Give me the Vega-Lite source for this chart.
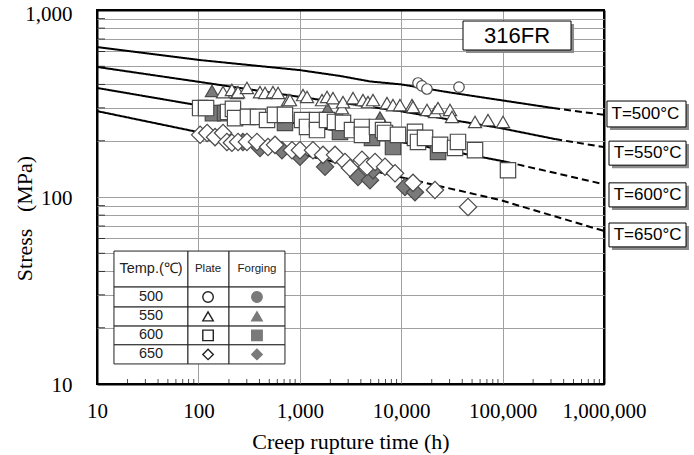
{
  "$schema": "https://vega.github.io/schema/vega-lite/v6.json",
  "width": 507,
  "height": 374,
  "autosize": "none",
  "padding": {"left": 97, "top": 10, "right": 90, "bottom": 71},
  "background": "white",
  "config": {
    "view": {"stroke": "black", "strokeWidth": 2},
    "axis": {
      "labelFont": "Liberation Serif",
      "labelFontSize": 21,
      "labelColor": "black",
      "titleFont": "Liberation Serif",
      "titleFontSize": 22,
      "titleFontWeight": "normal",
      "titleColor": "black",
      "ticks": false,
      "domain": false
    }
  },
  "datasets": {
    "curves": [
      {"temp": "500", "seg": "solid", "t": 10, "s": 634},
      {"temp": "500", "seg": "solid", "t": 100, "s": 541},
      {"temp": "500", "seg": "solid", "t": 1000, "s": 477},
      {"temp": "500", "seg": "solid", "t": 2490, "s": 444},
      {"temp": "500", "seg": "solid", "t": 4920, "s": 415},
      {"temp": "500", "seg": "solid", "t": 10000, "s": 400},
      {"temp": "500", "seg": "solid", "t": 28500, "s": 364},
      {"temp": "500", "seg": "solid", "t": 94000, "s": 330},
      {"temp": "500", "seg": "solid", "t": 315000, "s": 299},
      {"temp": "500", "seg": "dash", "t": 315000, "s": 299},
      {"temp": "500", "seg": "dash", "t": 1000000, "s": 275},
      {"temp": "550", "seg": "solid", "t": 10, "s": 496},
      {"temp": "550", "seg": "solid", "t": 104, "s": 412},
      {"temp": "550", "seg": "solid", "t": 1000, "s": 343},
      {"temp": "550", "seg": "solid", "t": 9730, "s": 288},
      {"temp": "550", "seg": "solid", "t": 32000, "s": 258},
      {"temp": "550", "seg": "solid", "t": 94000, "s": 234},
      {"temp": "550", "seg": "solid", "t": 330000, "s": 204},
      {"temp": "550", "seg": "dash", "t": 330000, "s": 204},
      {"temp": "550", "seg": "dash", "t": 1000000, "s": 185},
      {"temp": "600", "seg": "solid", "t": 10, "s": 383},
      {"temp": "600", "seg": "solid", "t": 97, "s": 310},
      {"temp": "600", "seg": "solid", "t": 1000, "s": 245},
      {"temp": "600", "seg": "solid", "t": 9730, "s": 197},
      {"temp": "600", "seg": "solid", "t": 47700, "s": 168},
      {"temp": "600", "seg": "solid", "t": 110000, "s": 154},
      {"temp": "600", "seg": "dash", "t": 110000, "s": 154},
      {"temp": "600", "seg": "dash", "t": 1000000, "s": 117},
      {"temp": "650", "seg": "solid", "t": 10, "s": 288},
      {"temp": "650", "seg": "solid", "t": 97, "s": 223},
      {"temp": "650", "seg": "solid", "t": 1000, "s": 170},
      {"temp": "650", "seg": "solid", "t": 11000, "s": 126},
      {"temp": "650", "seg": "dash", "t": 11000, "s": 126},
      {"temp": "650", "seg": "dash", "t": 94000, "s": 96.4},
      {"temp": "650", "seg": "dash", "t": 1000000, "s": 65.8}
    ],
    "points": [
      {"temp": "550", "form": "Forging", "t": 136, "s": 369},
      {"temp": "550", "form": "Forging", "t": 1880, "s": 296},
      {"temp": "550", "form": "Forging", "t": 6180, "s": 266},
      {"temp": "600", "form": "Forging", "t": 139, "s": 281},
      {"temp": "600", "form": "Forging", "t": 183, "s": 281},
      {"temp": "600", "form": "Forging", "t": 714, "s": 249},
      {"temp": "600", "form": "Forging", "t": 2490, "s": 223},
      {"temp": "600", "form": "Forging", "t": 5152, "s": 207},
      {"temp": "600", "form": "Forging", "t": 8298, "s": 185},
      {"temp": "600", "form": "Forging", "t": 23070, "s": 174},
      {"temp": "650", "form": "Forging", "t": 275, "s": 197},
      {"temp": "650", "form": "Forging", "t": 405, "s": 183},
      {"temp": "650", "form": "Forging", "t": 667, "s": 178},
      {"temp": "650", "form": "Forging", "t": 1004, "s": 164},
      {"temp": "650", "form": "Forging", "t": 1774, "s": 145},
      {"temp": "650", "form": "Forging", "t": 3750, "s": 128},
      {"temp": "650", "form": "Forging", "t": 4920, "s": 123},
      {"temp": "650", "form": "Forging", "t": 5272, "s": 139},
      {"temp": "650", "form": "Forging", "t": 10900, "s": 113},
      {"temp": "650", "form": "Forging", "t": 13680, "s": 106},
      {"temp": "500", "form": "Plate", "t": 14650, "s": 407},
      {"temp": "500", "form": "Plate", "t": 16000, "s": 393},
      {"temp": "500", "form": "Plate", "t": 17950, "s": 378},
      {"temp": "500", "form": "Plate", "t": 37150, "s": 387},
      {"temp": "600", "form": "Plate", "t": 104, "s": 299},
      {"temp": "600", "form": "Plate", "t": 119, "s": 299},
      {"temp": "600", "form": "Plate", "t": 196, "s": 285},
      {"temp": "600", "form": "Plate", "t": 219, "s": 296},
      {"temp": "600", "form": "Plate", "t": 230, "s": 264},
      {"temp": "600", "form": "Plate", "t": 308, "s": 268},
      {"temp": "600", "form": "Plate", "t": 387, "s": 268},
      {"temp": "600", "form": "Plate", "t": 475, "s": 258},
      {"temp": "600", "form": "Plate", "t": 569, "s": 275},
      {"temp": "600", "form": "Plate", "t": 714, "s": 275},
      {"temp": "600", "form": "Plate", "t": 1051, "s": 258},
      {"temp": "600", "form": "Plate", "t": 1178, "s": 237},
      {"temp": "600", "form": "Plate", "t": 1479, "s": 258},
      {"temp": "600", "form": "Plate", "t": 1479, "s": 228},
      {"temp": "600", "form": "Plate", "t": 1855, "s": 258},
      {"temp": "600", "form": "Plate", "t": 2224, "s": 252},
      {"temp": "600", "form": "Plate", "t": 2667, "s": 249},
      {"temp": "600", "form": "Plate", "t": 3273, "s": 228},
      {"temp": "600", "form": "Plate", "t": 4102, "s": 237},
      {"temp": "600", "form": "Plate", "t": 4102, "s": 215},
      {"temp": "600", "form": "Plate", "t": 5768, "s": 237},
      {"temp": "600", "form": "Plate", "t": 6622, "s": 228},
      {"temp": "600", "form": "Plate", "t": 6918, "s": 220},
      {"temp": "600", "form": "Plate", "t": 9290, "s": 215},
      {"temp": "600", "form": "Plate", "t": 13680, "s": 223},
      {"temp": "600", "form": "Plate", "t": 13680, "s": 207},
      {"temp": "600", "form": "Plate", "t": 14650, "s": 197},
      {"temp": "600", "form": "Plate", "t": 17180, "s": 207},
      {"temp": "600", "form": "Plate", "t": 24150, "s": 190},
      {"temp": "600", "form": "Plate", "t": 33960, "s": 183},
      {"temp": "600", "form": "Plate", "t": 36310, "s": 197},
      {"temp": "600", "form": "Plate", "t": 53450, "s": 178},
      {"temp": "600", "form": "Plate", "t": 113000, "s": 139},
      {"temp": "550", "form": "Plate", "t": 175, "s": 364},
      {"temp": "550", "form": "Plate", "t": 214, "s": 374},
      {"temp": "550", "form": "Plate", "t": 240, "s": 360},
      {"temp": "550", "form": "Plate", "t": 246, "s": 364},
      {"temp": "550", "form": "Plate", "t": 301, "s": 383},
      {"temp": "550", "form": "Plate", "t": 405, "s": 364},
      {"temp": "550", "form": "Plate", "t": 454, "s": 360},
      {"temp": "550", "form": "Plate", "t": 544, "s": 364},
      {"temp": "550", "form": "Plate", "t": 610, "s": 360},
      {"temp": "550", "form": "Plate", "t": 766, "s": 330},
      {"temp": "550", "form": "Plate", "t": 800, "s": 330},
      {"temp": "550", "form": "Plate", "t": 1076, "s": 351},
      {"temp": "550", "form": "Plate", "t": 1178, "s": 343},
      {"temp": "550", "form": "Plate", "t": 1656, "s": 330},
      {"temp": "550", "form": "Plate", "t": 1855, "s": 343},
      {"temp": "550", "form": "Plate", "t": 2125, "s": 338},
      {"temp": "550", "form": "Plate", "t": 2606, "s": 299},
      {"temp": "550", "form": "Plate", "t": 2667, "s": 322},
      {"temp": "550", "form": "Plate", "t": 3349, "s": 338},
      {"temp": "550", "form": "Plate", "t": 4198, "s": 330},
      {"temp": "550", "form": "Plate", "t": 4707, "s": 322},
      {"temp": "550", "form": "Plate", "t": 5272, "s": 330},
      {"temp": "550", "form": "Plate", "t": 7244, "s": 318},
      {"temp": "550", "form": "Plate", "t": 8298, "s": 310},
      {"temp": "550", "form": "Plate", "t": 9730, "s": 310},
      {"temp": "550", "form": "Plate", "t": 12790, "s": 310},
      {"temp": "550", "form": "Plate", "t": 13070, "s": 303},
      {"temp": "550", "form": "Plate", "t": 17950, "s": 292},
      {"temp": "550", "form": "Plate", "t": 21530, "s": 285},
      {"temp": "550", "form": "Plate", "t": 23070, "s": 299},
      {"temp": "550", "form": "Plate", "t": 30280, "s": 292},
      {"temp": "550", "form": "Plate", "t": 31700, "s": 268},
      {"temp": "550", "form": "Plate", "t": 53450, "s": 252},
      {"temp": "550", "form": "Plate", "t": 71800, "s": 258},
      {"temp": "550", "form": "Plate", "t": 100900, "s": 252},
      {"temp": "650", "form": "Plate", "t": 104, "s": 215},
      {"temp": "650", "form": "Plate", "t": 122, "s": 220},
      {"temp": "650", "form": "Plate", "t": 146, "s": 209},
      {"temp": "650", "form": "Plate", "t": 175, "s": 220},
      {"temp": "650", "form": "Plate", "t": 191, "s": 197},
      {"temp": "650", "form": "Plate", "t": 214, "s": 195},
      {"temp": "650", "form": "Plate", "t": 246, "s": 197},
      {"temp": "650", "form": "Plate", "t": 301, "s": 197},
      {"temp": "650", "form": "Plate", "t": 378, "s": 197},
      {"temp": "650", "form": "Plate", "t": 486, "s": 185},
      {"temp": "650", "form": "Plate", "t": 569, "s": 190},
      {"temp": "650", "form": "Plate", "t": 838, "s": 178},
      {"temp": "650", "form": "Plate", "t": 1004, "s": 178},
      {"temp": "650", "form": "Plate", "t": 1349, "s": 178},
      {"temp": "650", "form": "Plate", "t": 1694, "s": 168},
      {"temp": "650", "form": "Plate", "t": 2224, "s": 168},
      {"temp": "650", "form": "Plate", "t": 2792, "s": 154},
      {"temp": "650", "form": "Plate", "t": 3126, "s": 143},
      {"temp": "650", "form": "Plate", "t": 4102, "s": 158},
      {"temp": "650", "form": "Plate", "t": 4601, "s": 145},
      {"temp": "650", "form": "Plate", "t": 5521, "s": 154},
      {"temp": "650", "form": "Plate", "t": 6918, "s": 145},
      {"temp": "650", "form": "Plate", "t": 8690, "s": 134},
      {"temp": "650", "form": "Plate", "t": 13070, "s": 119},
      {"temp": "650", "form": "Plate", "t": 21530, "s": 109},
      {"temp": "650", "form": "Plate", "t": 45600, "s": 88.5}
    ],
    "legendSymbols": [
      {"temp": "500", "form": "Plate", "t": 124.5, "s": 29.2},
      {"temp": "550", "form": "Plate", "t": 124.5, "s": 23.0},
      {"temp": "600", "form": "Plate", "t": 124.5, "s": 18.2},
      {"temp": "650", "form": "Plate", "t": 124.5, "s": 14.4},
      {"temp": "500", "form": "Forging", "t": 378, "s": 29.2},
      {"temp": "550", "form": "Forging", "t": 378, "s": 23.0},
      {"temp": "600", "form": "Forging", "t": 378, "s": 18.2},
      {"temp": "650", "form": "Forging", "t": 378, "s": 14.4}
    ],
    "legendCells": [
      {"t1": 14.7, "t2": 78.9, "s1": 51.4, "s2": 33.0},
      {"t1": 78.9, "t2": 200.4, "s1": 51.4, "s2": 33.0},
      {"t1": 200.4, "t2": 714, "s1": 51.4, "s2": 33.0},
      {"t1": 14.7, "t2": 78.9, "s1": 33.0, "s2": 25.8},
      {"t1": 78.9, "t2": 200.4, "s1": 33.0, "s2": 25.8},
      {"t1": 200.4, "t2": 714, "s1": 33.0, "s2": 25.8},
      {"t1": 14.7, "t2": 78.9, "s1": 25.8, "s2": 20.4},
      {"t1": 78.9, "t2": 200.4, "s1": 25.8, "s2": 20.4},
      {"t1": 200.4, "t2": 714, "s1": 25.8, "s2": 20.4},
      {"t1": 14.7, "t2": 78.9, "s1": 20.4, "s2": 16.2},
      {"t1": 78.9, "t2": 200.4, "s1": 20.4, "s2": 16.2},
      {"t1": 200.4, "t2": 714, "s1": 20.4, "s2": 16.2},
      {"t1": 14.7, "t2": 78.9, "s1": 16.2, "s2": 12.8},
      {"t1": 78.9, "t2": 200.4, "s1": 16.2, "s2": 12.8},
      {"t1": 200.4, "t2": 714, "s1": 16.2, "s2": 12.8}
    ],
    "legendBig": [
      {"label": "Temp.(℃)", "t": 34.1, "s": 41.2},
      {"label": "500", "t": 34.1, "s": 29.2},
      {"label": "550", "t": 34.1, "s": 23.0},
      {"label": "600", "t": 34.1, "s": 18.2},
      {"label": "650", "t": 34.1, "s": 14.4}
    ],
    "legendSmall": [
      {"label": "Plate", "t": 124.5, "s": 41.2},
      {"label": "Forging", "t": 378, "s": 41.2}
    ],
    "tempBoxes": [
      {"label": "T=500°C", "t1": 1070000, "t2": 6440000, "s1": 326, "s2": 237, "t": 2560000, "s": 278},
      {"label": "T=550°C", "t1": 1120000, "t2": 6440000, "s1": 199, "s2": 148, "t": 2690000, "s": 172},
      {"label": "T=600°C", "t1": 1120000, "t2": 6440000, "s1": 119, "s2": 88.5, "t": 2690000, "s": 102.5},
      {"label": "T=650°C", "t1": 1120000, "t2": 6440000, "s1": 72.6, "s2": 54.1, "t": 2690000, "s": 62.7}
    ],
    "titleBox": [
      {"label": "316FR", "t1": 40700, "t2": 473000, "s1": 873, "s2": 611, "t": 138700, "s": 726}
    ],
    "xMinor": [
      {"v": 20}, {"v": 30}, {"v": 40}, {"v": 50}, {"v": 60}, {"v": 70}, {"v": 80}, {"v": 90},
      {"v": 200}, {"v": 300}, {"v": 400}, {"v": 500}, {"v": 600}, {"v": 700}, {"v": 800}, {"v": 900},
      {"v": 2000}, {"v": 3000}, {"v": 4000}, {"v": 5000}, {"v": 6000}, {"v": 7000}, {"v": 8000}, {"v": 9000},
      {"v": 20000}, {"v": 30000}, {"v": 40000}, {"v": 50000}, {"v": 60000}, {"v": 70000}, {"v": 80000}, {"v": 90000},
      {"v": 200000}, {"v": 300000}, {"v": 400000}, {"v": 500000}, {"v": 600000}, {"v": 700000}, {"v": 800000}, {"v": 900000}
    ],
    "yMinor": [
      {"v": 20}, {"v": 30}, {"v": 40}, {"v": 50}, {"v": 60}, {"v": 70}, {"v": 80}, {"v": 90},
      {"v": 200}, {"v": 300}, {"v": 400}, {"v": 500}, {"v": 600}, {"v": 700}, {"v": 800}, {"v": 900}
    ]
  },
  "layer": [
    {
      "data": {"name": "curves"},
      "mark": {"type": "line", "color": "black", "strokeWidth": 2},
      "encoding": {
        "x": {
          "field": "t", "type": "quantitative",
          "scale": {"type": "log", "domain": [10, 1000000], "nice": false},
          "axis": {
            "title": "Creep rupture time (h)",
            "values": [10, 100, 1000, 10000, 100000, 1000000],
            "format": ",",
            "labelPadding": 16,
            "labelFlush": false,
            "labelOverlap": false,
            "grid": true,
            "gridColor": {"condition": {"test": "datum.value == 10 || datum.value == 1000000", "value": "black"}, "value": "#a0a0a0"},
            "gridWidth": {"condition": {"test": "datum.value == 10 || datum.value == 1000000", "value": 2}, "value": 1},
            "titleY": 64,
            "titleBaseline": "alphabetic"
          }
        },
        "y": {
          "field": "s", "type": "quantitative",
          "scale": {"type": "log", "domain": [10, 1000], "nice": false},
          "axis": {
            "title": "Stress\u00a0\u00a0\u00a0(MPa)",
            "values": [10, 20, 30, 40, 50, 60, 70, 80, 90, 100, 200, 300, 400, 500, 600, 700, 800, 900, 1000],
            "labelExpr": "indexof([10, 100, 1000], datum.value) >= 0 ? format(datum.value, ',') : ''",
            "labelPadding": 25,
            "labelOffset": {"condition": {"test": "datum.value == 1000", "value": 4}, "value": 1},
            "labelOverlap": false,
            "labelFlush": false,
            "grid": true,
            "gridColor": {"condition": {"test": "datum.value == 10 || datum.value == 1000", "value": "black"}, "value": "#a0a0a0"},
            "gridWidth": {"condition": {"test": "datum.value == 10 || datum.value == 1000", "value": 2}, "value": 1},
            "titleX": -73,
            "titleY": 208,
            "titleAlign": "center",
            "titleBaseline": "middle"
          }
        },
        "strokeDash": {"field": "seg", "type": "nominal", "scale": {"domain": ["solid", "dash"], "range": [[1, 0], [7, 4]]}, "legend": null},
        "detail": {"field": "temp"}
      }
    },
    {
      "data": {"name": "xMinor"},
      "mark": {"type": "tick", "orient": "vertical", "clip": true, "color": "black", "thickness": 1, "size": 10},
      "encoding": {
        "x": {"field": "v", "type": "quantitative"},
        "y": {"datum": 10, "type": "quantitative"}
      }
    },
    {
      "data": {"name": "yMinor"},
      "mark": {"type": "tick", "orient": "horizontal", "clip": true, "color": "black", "thickness": 1, "size": 16},
      "encoding": {
        "y": {"field": "v", "type": "quantitative"},
        "x": {"datum": 10, "type": "quantitative"}
      }
    },
    {
      "data": {"name": "points"},
      "mark": {"type": "point", "filled": true, "opacity": 1, "strokeWidth": 1.2},
      "encoding": {
        "x": {"field": "t", "type": "quantitative"},
        "y": {"field": "s", "type": "quantitative"},
        "shape": {"field": "temp", "type": "nominal", "scale": {"domain": ["500", "550", "600", "650"], "range": ["circle", "triangle-up", "square", "diamond"]}, "legend": null},
        "size": {"field": "temp", "type": "nominal", "scale": {"domain": ["500", "550", "600", "650"], "range": [110, 300, 160, 230]}, "legend": null},
        "fill": {"field": "form", "type": "nominal", "scale": {"domain": ["Plate", "Forging"], "range": ["white", "#7a7a7a"]}, "legend": null},
        "stroke": {"value": "#4a4a4a"}
      }
    },
    {
      "data": {"name": "legendCells"},
      "mark": {"type": "rect", "fill": "white", "stroke": "#222222", "strokeWidth": 1},
      "encoding": {
        "x": {"field": "t1", "type": "quantitative"},
        "x2": {"field": "t2"},
        "y": {"field": "s1", "type": "quantitative"},
        "y2": {"field": "s2"}
      }
    },
    {
      "data": {"name": "legendSymbols"},
      "mark": {"type": "point", "filled": true, "opacity": 1, "strokeWidth": 1.4},
      "encoding": {
        "x": {"field": "t", "type": "quantitative"},
        "y": {"field": "s", "type": "quantitative"},
        "shape": {"field": "temp", "type": "nominal", "legend": null},
        "size": {"value": 110},
        "fill": {"field": "form", "type": "nominal", "legend": null},
        "stroke": {"condition": {"test": "datum.form == 'Plate'", "value": "#222222"}, "value": "#7a7a7a"}
      }
    },
    {
      "data": {"name": "legendBig"},
      "mark": {"type": "text", "font": "Liberation Sans", "fontSize": 14.5, "color": "#222222", "align": "center", "baseline": "middle"},
      "encoding": {
        "x": {"field": "t", "type": "quantitative"},
        "y": {"field": "s", "type": "quantitative"},
        "text": {"field": "label"}
      }
    },
    {
      "data": {"name": "legendSmall"},
      "mark": {"type": "text", "font": "Liberation Sans", "fontSize": 11.5, "color": "#222222", "align": "center", "baseline": "middle", "letterSpacing": 0.6},
      "encoding": {
        "x": {"field": "t", "type": "quantitative"},
        "y": {"field": "s", "type": "quantitative"},
        "text": {"field": "label"}
      }
    },
    {
      "data": {"name": "tempBoxes"},
      "mark": {"type": "rect", "fill": "#8c8c8c", "xOffset": 3, "x2Offset": 3, "yOffset": 3, "y2Offset": 3},
      "encoding": {
        "x": {"field": "t1", "type": "quantitative"},
        "x2": {"field": "t2"},
        "y": {"field": "s1", "type": "quantitative"},
        "y2": {"field": "s2"}
      }
    },
    {
      "data": {"name": "tempBoxes"},
      "mark": {"type": "rect", "fill": "white", "stroke": "black", "strokeWidth": 1},
      "encoding": {
        "x": {"field": "t1", "type": "quantitative"},
        "x2": {"field": "t2"},
        "y": {"field": "s1", "type": "quantitative"},
        "y2": {"field": "s2"}
      }
    },
    {
      "data": {"name": "tempBoxes"},
      "mark": {"type": "text", "font": "Liberation Sans", "fontSize": 17, "color": "black", "align": "center", "baseline": "middle"},
      "encoding": {
        "x": {"field": "t", "type": "quantitative"},
        "y": {"field": "s", "type": "quantitative"},
        "text": {"field": "label"}
      }
    },
    {
      "data": {"name": "titleBox"},
      "mark": {"type": "rect", "fill": "#8c8c8c", "xOffset": 3, "x2Offset": 3, "yOffset": 3, "y2Offset": 3},
      "encoding": {
        "x": {"field": "t1", "type": "quantitative"},
        "x2": {"field": "t2"},
        "y": {"field": "s1", "type": "quantitative"},
        "y2": {"field": "s2"}
      }
    },
    {
      "data": {"name": "titleBox"},
      "mark": {"type": "rect", "fill": "white", "stroke": "black", "strokeWidth": 1},
      "encoding": {
        "x": {"field": "t1", "type": "quantitative"},
        "x2": {"field": "t2"},
        "y": {"field": "s1", "type": "quantitative"},
        "y2": {"field": "s2"}
      }
    },
    {
      "data": {"name": "titleBox"},
      "mark": {"type": "text", "font": "Liberation Sans", "fontSize": 22, "color": "black", "align": "center", "baseline": "middle"},
      "encoding": {
        "x": {"field": "t", "type": "quantitative"},
        "y": {"field": "s", "type": "quantitative"},
        "text": {"field": "label"}
      }
    }
  ]
}
